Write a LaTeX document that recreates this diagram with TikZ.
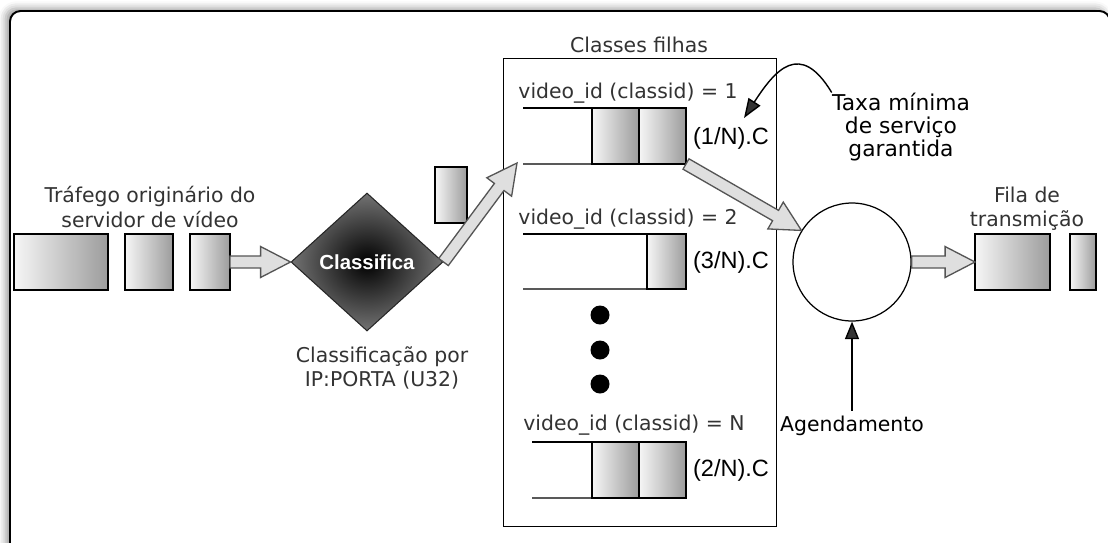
\documentclass[tikz,border=0pt]{standalone}
\usepackage{fontspec}
\setmainfont{DejaVu Sans}
\newfontfamily\arialfont{Liberation Sans}
\usetikzlibrary{shapes.geometric,arrows.meta,calc,shadows.blur}
\definecolor{ink}{HTML}{333333}
\definecolor{arrowfill}{HTML}{DFDFDF}
\definecolor{arrowedge}{HTML}{555555}
\definecolor{pktlight}{HTML}{F6F6F6}
\definecolor{pktdark}{HTML}{9C9C9C}
\tikzset{
  txt/.style={font=\fontsize{11.6}{13.7}\selectfont, text=ink, align=center, inner sep=0pt},
  blacktxt/.style={txt, text=black},
  rate/.style={font=\arialfont\fontsize{13.4}{16}\selectfont, text=black, inner sep=0pt},
  packet/.style={draw=black, line width=0.7pt, left color=pktlight, right color=pktdark,
    minimum height=1.12cm, inner sep=0pt, outer sep=0pt, anchor=north west},
  qline/.style={draw=black, line width=0.8pt},
  dot/.style={circle, fill=black, minimum size=0.38cm, inner sep=0pt},
  tip/.style={-{Triangle[length=10pt,width=8pt]}, line width=0.8pt},
  fatarrow/.style={draw=arrowedge, fill=arrowfill, line width=0.75pt, line join=miter,
    to path={
      ($(\tikztostart)!3.4pt!90:(\tikztotarget)$)
      -- ($(\tikztotarget)!17pt!(\tikztostart)!3.4pt!-90:(\tikztostart)$)
      -- ($(\tikztotarget)!17pt!(\tikztostart)!8.8pt!-90:(\tikztostart)$)
      -- (\tikztotarget)
      -- ($(\tikztotarget)!17pt!(\tikztostart)!8.8pt!90:(\tikztostart)$)
      -- ($(\tikztotarget)!17pt!(\tikztostart)!3.4pt!90:(\tikztostart)$)
      -- ($(\tikztostart)!3.4pt!-90:(\tikztotarget)$)
      -- cycle}}
}
\begin{document}
\begin{tikzpicture}[x=0.02cm, y=-0.02cm]
\useasboundingbox (0,0) rectangle (1108,542);
% outer frame
\draw[line width=1.1pt, rounded corners=6pt, fill=white,
  blur shadow={shadow xshift=-2.5pt, shadow yshift=1.5pt, shadow blur radius=4pt, shadow opacity=40}]
  (10,11) rectangle (1110,560);

% incoming traffic
\node[txt] (src) at (150,207) {Tráfego originário do\\servidor de vídeo};
\node[packet, minimum width=1.88cm] (p1) at (14,234) {};
\node[packet, minimum width=0.96cm] (p2) at (125,234) {};
\node[packet, minimum width=0.80cm] (p3) at (190,234) {};

% classifier
\node[diamond, draw=black!85, line width=0.6pt, minimum width=3.04cm, minimum height=2.76cm,
  inner sep=0pt, inner color=black, outer color=black!55, text=white,
  font=\arialfont\bfseries\fontsize{11.6}{13}\selectfont] (cls) at (367,262) {Classifica};
\node[txt] (clsnote) at (382,368) {Classificação por\\IP:PORTA (U32)};
\node[packet, minimum width=0.64cm] (pm) at (435,167) {};

% child classes
\node[draw, line width=0.7pt, minimum width=5.46cm, minimum height=9.36cm,
  anchor=north west, inner sep=0pt] (box) at (503,58) {};
\node[txt] (title) at (639,45) {Classes filhas};

% class 1
\node[txt] (l1) at (628,93) {video\_id (classid) = 1};
\node[packet, minimum width=0.94cm] (c1a) at (592,108) {};
\node[packet, minimum width=0.94cm] (c1b) at (639,108) {};
\coordinate (q1t) at (523,108);
\coordinate (q1b) at (523,164);
\draw[qline] (q1t) -- (c1b.north east);
\draw[qline] (q1b) -- (c1b.south east);
\node[rate] (r1) at (731,138) {(1/N).C};

% class 2
\node[txt] (l2) at (628,219) {video\_id (classid) = 2};
\node[packet, minimum width=0.78cm, minimum height=1.10cm] (c2a) at (647,234) {};
\coordinate (q2t) at (523,234);
\coordinate (q2b) at (523,289);
\draw[qline] (q2t) -- (c2a.north east);
\draw[qline] (q2b) -- (c2a.south east);
\node[rate] (r2) at (731,262) {(3/N).C};

% ellipsis
\node[dot] (d1) at (600,315) {};
\node[dot] (d2) at (600,350) {};
\node[dot] (d3) at (600,384) {};

% class N
\node[txt] (lN) at (634,425) {video\_id (classid) = N};
\node[packet, minimum width=0.94cm] (cNa) at (592,442) {};
\node[packet, minimum width=0.94cm] (cNb) at (639,442) {};
\coordinate (qNt) at (532,442);
\coordinate (qNb) at (532,498);
\draw[qline] (qNt) -- (cNb.north east);
\draw[qline] (qNb) -- (cNb.south east);
\node[rate] (rN) at (731,470) {(2/N).C};

% scheduler
\node[circle, draw, line width=0.7pt, minimum size=2.36cm, inner sep=0pt] (sched) at (852,262) {};
\node[blacktxt] (agend) at (852,426) {Agendamento};
\draw[tip, shorten <=3pt] (agend.north) -- (sched.south);

% guaranteed rate note
\node[blacktxt, font=\fontsize{12.4}{13.2}\selectfont] (taxa) at (901,127) {Taxa mínima\\de serviço\\garantida};
\coordinate (r1tip) at (744,118);
\draw[-{Triangle[length=11pt,width=8pt]}, line width=0.8pt]
  (taxa.north west) .. controls (800,40) and (775,70) .. (r1tip);

% transmission queue
\node[txt] (fila) at (1027,209) {Fila de\\transmição};
\node[packet, minimum width=1.50cm] (t1) at (975,234) {};
\node[packet, minimum width=0.52cm] (t2) at (1070,234) {};

% flow arrows
\coordinate (q1in) at (517,163);
\draw[fatarrow] (p3.east) to (cls.west);
\draw[fatarrow] (cls.east) to (q1in);
\draw[fatarrow] (c1b.south east) to (sched.148);
\draw[fatarrow] (sched.east) to (t1.west);
\end{tikzpicture}
\end{document}
